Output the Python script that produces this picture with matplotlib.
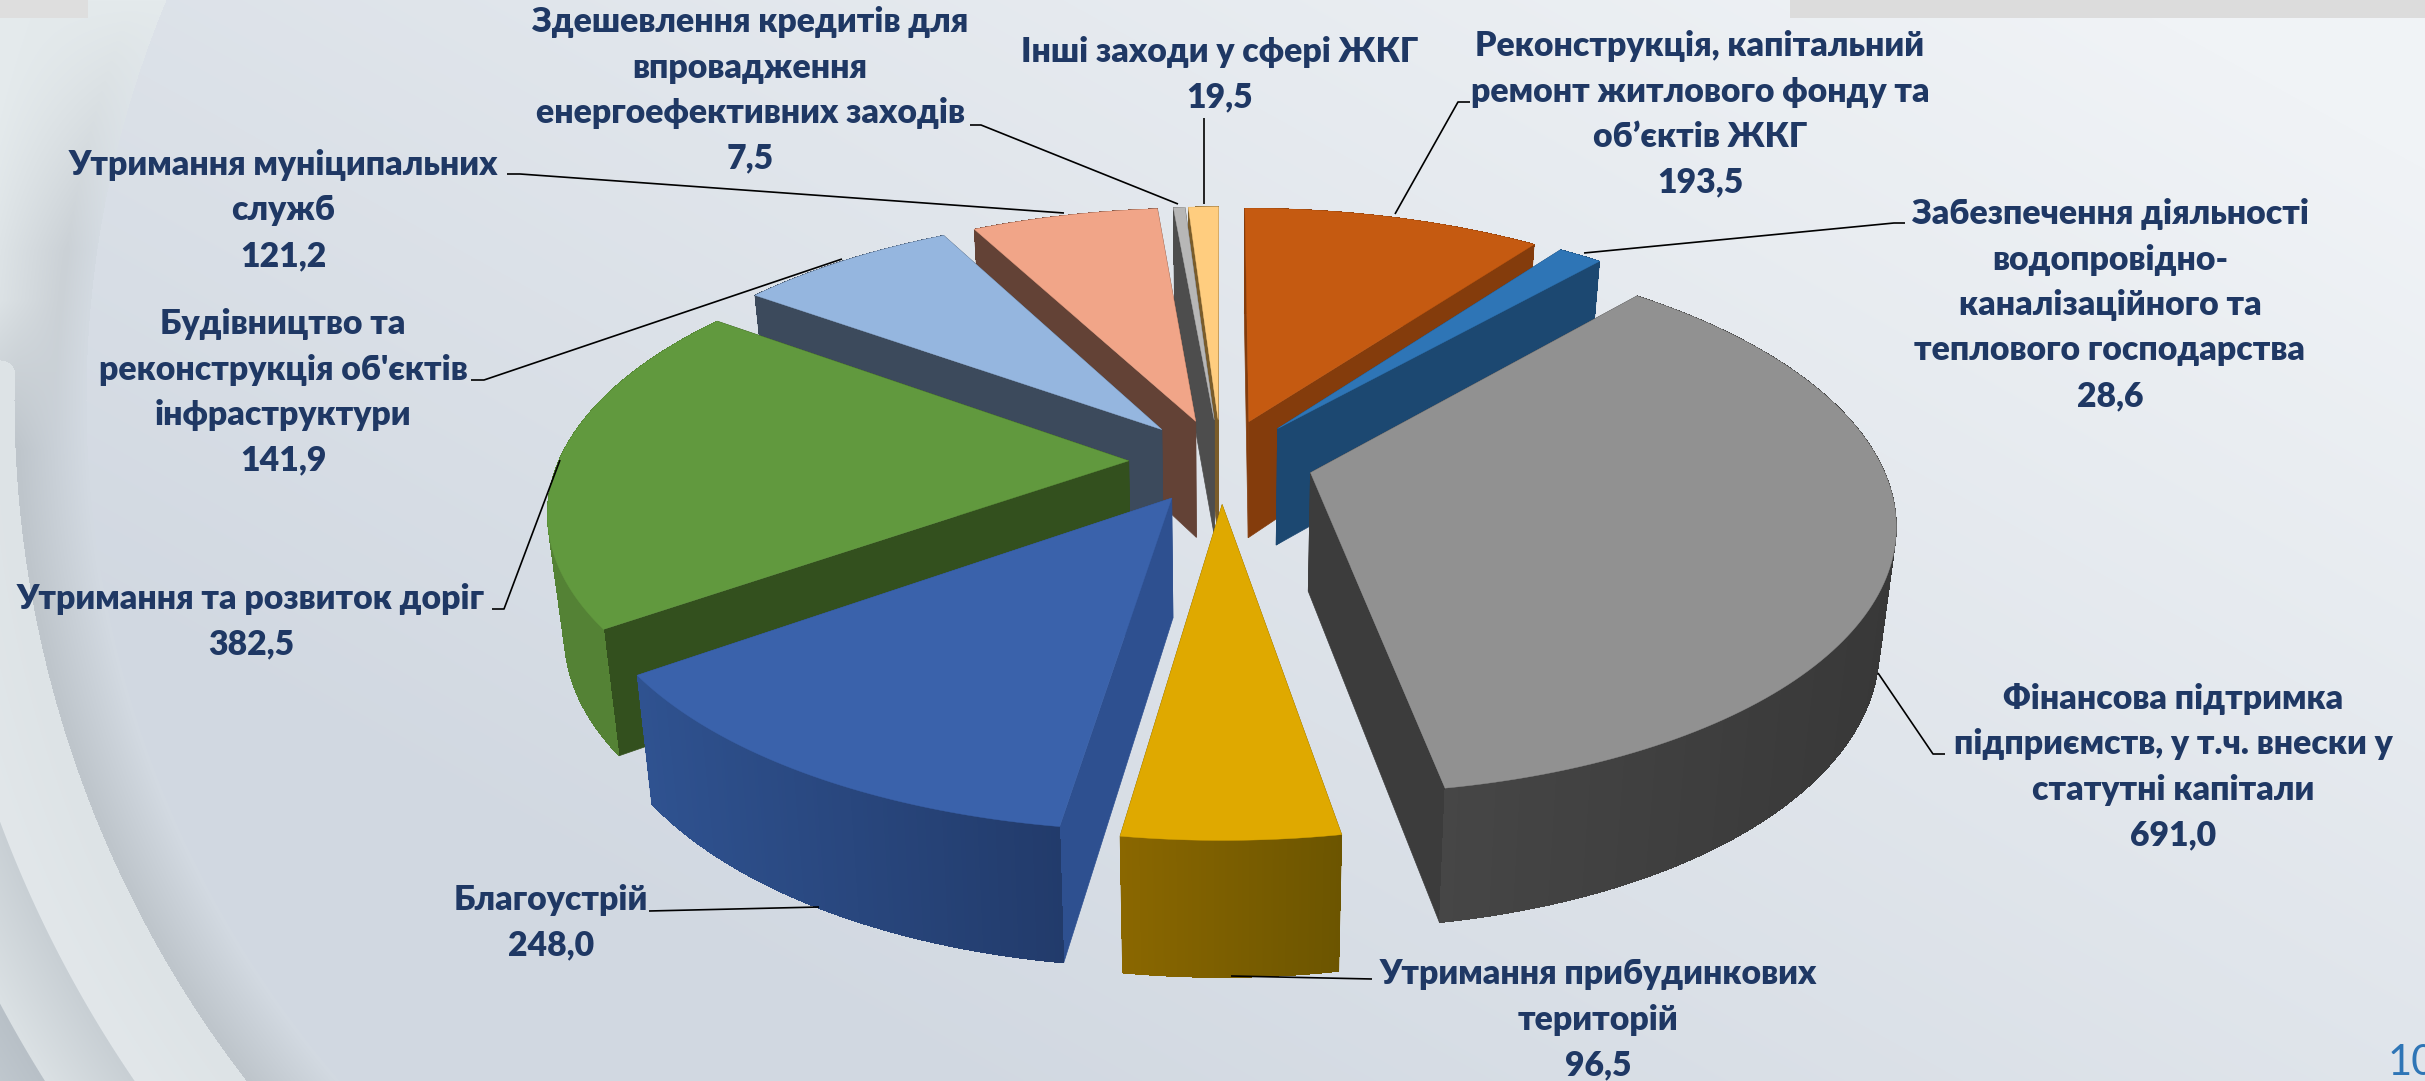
import numpy as np
import matplotlib
matplotlib.use("Agg")
import matplotlib.pyplot as plt
from matplotlib.collections import PolyCollection
from matplotlib.colors import to_rgb

plt.rcParams['font.family'] = ['Lato', 'Noto Sans', 'DejaVu Sans']

# Data, clockwise from 12 o'clock
categories = [
    "Реконструкція, капітальний\nремонт житлового фонду та\nоб’єктів ЖКГ",
    "Забезпечення діяльності\nводопровідно-\nканалізаційного та\nтеплового господарства",
    "Фінансова підтримка\nпідприємств, у т.ч. внески у\nстатутні капітали",
    "Утримання прибудинкових\nтериторій",
    "Благоустрій",
    "Утримання та розвиток доріг",
    "Будівництво та\nреконструкція об'єктів\nінфраструктури",
    "Утримання муніципальних\nслужб",
    "Здешевлення кредитів для\nвпровадження\nенергоефективних заходів",
    "Інші заходи у сфері ЖКГ",
]
values = [193.5, 28.6, 691.0, 96.5, 248.0, 382.5, 141.9, 121.2, 7.5, 19.5]

top_colors = ["#C55A11", "#2E75B6", "#919191", "#DFA900", "#3A62AB",
              "#61993E", "#95B6DF", "#F1A588", "#B7B7B7", "#FFCD7F"]
wall_colors = ["#843C0C", "#1C4871", "#3C3C3C", "#7A5E00", "#2E5090",
               "#33501E", "#3C4A5C", "#634236", "#4D4D4D", "#7A5C2A"]
rim_left = ["#843C0C", "#1C4871", "#464646", "#8A6700", "#2F5290",
            "#548235", "#3C4A5C", "#634236", "#4D4D4D", "#7A5C2A"]
rim_right = ["#843C0C", "#1C4871", "#383838", "#6C5500", "#223B6B",
             "#548235", "#3C4A5C", "#634236", "#4D4D4D", "#7A5C2A"]

# Label layout: centre x, y of first line, pixels
label_x = [1700, 2110, 2173, 1598, 551, 251, 283, 283, 750, 1220]
label_y = [46, 214, 699, 974, 900, 599, 324, 165, 22, 52]
line_h = 45.5

# Leader lines
leaders = [
    [(1470, 102), (1458, 102), (1395, 214)],
    [(1905, 223), (1894, 223), (1584, 253)],
    [(1945, 754), (1933, 754), (1878, 673)],
    [(1372, 979), (1231, 976)],
    [(649, 911), (819, 907)],
    [(492, 609), (504, 609), (560, 460)],
    [(471, 380), (484, 380), (842, 259)],
    [(507, 174), (520, 174), (1064, 213)],
    [(970, 125), (981, 125), (1178, 204)],
    [(1204, 118), (1204, 204)],
]

W, H = 2425, 1081
NAVY = "#1F3864"

# Perspective of the pie
CX, CY = 1221, 461
RX, RY = 570, 262
K = 0.17
EXPLODE = 0.162
SHRINK = 0.975


def project(u, v, bottom=False):
    w = 1 + K * v
    x = CX + RX * u / w
    y = CY - RY * v / w
    if bottom:
        x = CX + (x - CX) * SHRINK
        y = y + 95 + 0.05 * y
    return x, y


def hex_arr(c):
    return np.array(to_rgb(c))


def ramp(r, pos, cols):
    cols = np.array([to_rgb(c) for c in cols])
    return np.stack([np.interp(r, pos, cols[:, i]) for i in range(3)], axis=-1)


def background():
    yy, xx = np.mgrid[0:H, 0:W].astype(float)
    t = np.clip(0.6 * (xx - 400) / 1900 + 0.4 * (800 - yy) / 700, 0, 1)[..., None]
    img = hex_arr("#D1D8E1") * (1 - t) + hex_arr("#F0F3F6") * t

    r = np.hypot(xx - 1128, yy - 400)
    left = xx < 1128
    # upper left: soft shade getting lighter to the edge
    up = ramp(r, [1042, 1072, 1170], ["#D3DAE1", "#CBD1D6", "#E6ECEE"])
    mix = np.clip(yy / 250, 0, 1)[..., None]
    up = hex_arr("#E4EAEC") * (1 - mix) + up * mix
    low = ramp(r, [1042, 1112], ["#D3DAE2", "#BEC5CB"])
    s = np.clip((yy - 300) / 150, 0, 1)[..., None]
    band = up * (1 - s) + low * s
    img = np.where(((r > 1042) & left)[..., None], band, img)

    # light and grey rings at bottom left
    rings = ramp(r, [1114, 1115, 1204, 1205, 1279, 1280, 1340],
                 ["#DDE3E6", "#DDE3E6", "#E2E7EA", "#C8CFD4", "#DBE1E4", "#B8C0C7", "#C4CCD2"])
    box = (yy >= 375) | (xx ** 2 + (yy - 375) ** 2 <= 15 ** 2)
    img = np.where(((r > 1114) & box & left)[..., None], rings, img)
    return img


fig = plt.figure(figsize=(W / 100, H / 100), dpi=100)
ax = fig.add_axes([0, 0, 1, 1])
ax.imshow(background(), extent=(0, W, H, 0), aspect='auto', zorder=0)
ax.set_xlim(0, W)
ax.set_ylim(H, 0)
ax.axis('off')

# strips along the top edge
ax.fill([0, 88, 88, 0], [0, 0, 18, 18], color="#DEDEDE", lw=0, zorder=1)
ax.fill([1790, W, W, 1790], [0, 0, 18, 18], color="#DCDCDC", lw=0, zorder=1)

# Slice angles from the values
vals = np.array(values)
edges = np.concatenate([[0], np.cumsum(vals)]) / vals.sum() * 2 * np.pi
mids = (edges[:-1] + edges[1:]) / 2
offs_u = EXPLODE * np.sin(mids)
offs_v = EXPLODE * np.cos(mids)

# paint from the back of the pie to the front
order = np.argsort(-offs_v)
for z, i in enumerate(order):
    base_z = 2 + z * 4
    th = np.linspace(edges[i], edges[i + 1], 120)
    u = offs_u[i] + np.sin(th)
    v = offs_v[i] + np.cos(th)
    tx, ty = project(u, v)
    bx, by = project(u, v, bottom=True)
    ax0, ay0 = project(offs_u[i], offs_v[i])
    ax1, ay1 = project(offs_u[i], offs_v[i], bottom=True)

    # radial walls
    for k in (0, -1):
        ax.fill([ax0, tx[k], bx[k], ax1], [ay0, ty[k], by[k], ay1],
                color=wall_colors[i], lw=0.5, zorder=base_z)

    # outer wall: one flat shape, then strips for the colour fade
    c0, c1 = hex_arr(rim_left[i]), hex_arr(rim_right[i])
    ax.fill(np.r_[tx, bx[::-1]], np.r_[ty, by[::-1]], color=(c0 + c1) / 2, lw=0, zorder=base_z + 1)
    quads = []
    cols = []
    lo, hi = tx.min(), tx.max()
    for k in range(len(th) - 1):
        quads.append([(tx[k], ty[k]), (tx[k + 1], ty[k + 1]), (bx[k + 1], by[k + 1]), (bx[k], by[k])])
        f = ((tx[k] + tx[k + 1]) / 2 - lo) / (hi - lo)
        cols.append(c0 * (1 - f) + c1 * f)
    ax.add_collection(PolyCollection(quads, facecolors=cols, edgecolors='none', antialiaseds=False,
                                     zorder=base_z + 2))

    # top face
    ax.fill(np.r_[ax0, tx], np.r_[ay0, ty], color=top_colors[i], lw=0.3, zorder=base_z + 3)

# Leaders
for pts in leaders:
    xs, ys = zip(*pts)
    ax.plot(xs, ys, color="black", lw=1.2, zorder=60, solid_capstyle='butt')

# Labels
for i, cat in enumerate(categories):
    lines = cat.split("\n") + [f"{values[i]:.1f}".replace(".", ",")]
    for j, line in enumerate(lines):
        ax.text(label_x[i], label_y[i] + j * line_h, line, color=NAVY, fontsize=24.3,
                fontweight='heavy', ha='center', va='center', zorder=70)

# Page number, cut by the edge of the slide
ax.text(2388, 1063, "10", color="#2E75B6", fontsize=30, ha='left', va='center', zorder=70)

fig.savefig("out.png", dpi=100)
